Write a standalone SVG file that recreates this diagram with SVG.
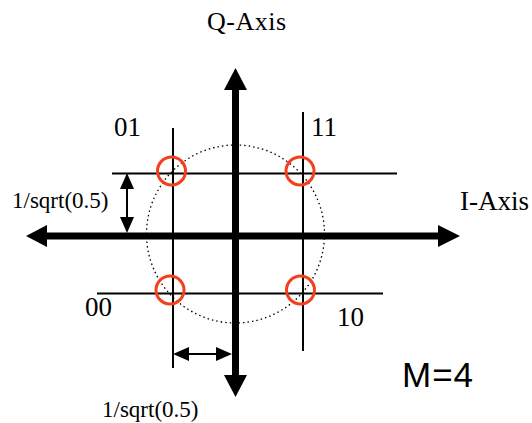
<svg xmlns="http://www.w3.org/2000/svg" width="532" height="423" viewBox="0 0 532 423">
<style>
.thin{stroke:#000;stroke-width:2;fill:none}
.axis{stroke:#000;stroke-width:7;fill:none}
.pt{stroke:#f2401c;stroke-width:3;fill:none}
.serif{font-family:"Liberation Serif","Times New Roman",serif;fill:#000}
.sans{font-family:"Liberation Sans",Arial,sans-serif;fill:#000}
.head{fill:#000;stroke:none}
</style>
<rect width="532" height="423" fill="#fff"/>
<g id="grid">
<line class="thin" x1="173" y1="128" x2="173" y2="368"/>
<line class="thin" x1="303" y1="112" x2="303" y2="351"/>
<line class="thin" x1="112" y1="173.5" x2="397" y2="173.5"/>
<line class="thin" x1="97" y1="293.5" x2="383" y2="293.5"/>
</g>
<g id="unit-circle">
<circle cx="235.5" cy="234" r="89" fill="none" stroke="#000" stroke-width="1.3" stroke-dasharray="1.5,3"/>
</g>
<g id="connectors">
<line class="axis" x1="235.5" y1="88" x2="235.5" y2="377"/>
<polygon class="head" points="235.5,68 247,90 224,90"/>
<polygon class="head" points="235.5,397 247,375 224,375"/>
<line class="axis" x1="45" y1="236" x2="440" y2="236"/>
<polygon class="head" points="26,236 47,225 47,247"/>
<polygon class="head" points="460,236 438,225 438,247"/>
<line class="thin" x1="127" y1="186" x2="127" y2="220"/>
<polygon class="head" points="127,173 134,189 120,189"/>
<polygon class="head" points="127,233 134,217 120,217"/>
<line class="thin" x1="186" y1="354" x2="219" y2="354"/>
<polygon class="head" points="173,354 189,347 189,361"/>
<polygon class="head" points="232,354 216,347 216,361"/>
</g>
<g id="s01"><circle class="pt" cx="171.5" cy="171" r="14"/></g>
<g id="s11"><circle class="pt" cx="300" cy="171" r="14"/></g>
<g id="s00"><circle class="pt" cx="170" cy="290" r="14"/></g>
<g id="s10"><circle class="pt" cx="300.5" cy="290" r="14"/></g>
<g id="labels">
<text class="serif" x="207" y="30" font-size="26" letter-spacing="0.5">Q-Axis</text>
<text class="serif" x="460" y="210" font-size="27">I-Axis</text>
<text class="serif" x="114" y="136" font-size="27">01</text>
<text class="serif" x="311" y="136" font-size="27">11</text>
<text class="serif" x="85" y="316" font-size="27">00</text>
<text class="serif" x="337" y="326" font-size="27">10</text>
<text class="serif" x="12" y="208" font-size="23">1/sqrt(0.5)</text>
<text class="serif" x="102" y="417" font-size="23">1/sqrt(0.5)</text>
<text class="sans" x="402" y="387" font-size="35" letter-spacing="1">M=4</text>
</g>
</svg>
